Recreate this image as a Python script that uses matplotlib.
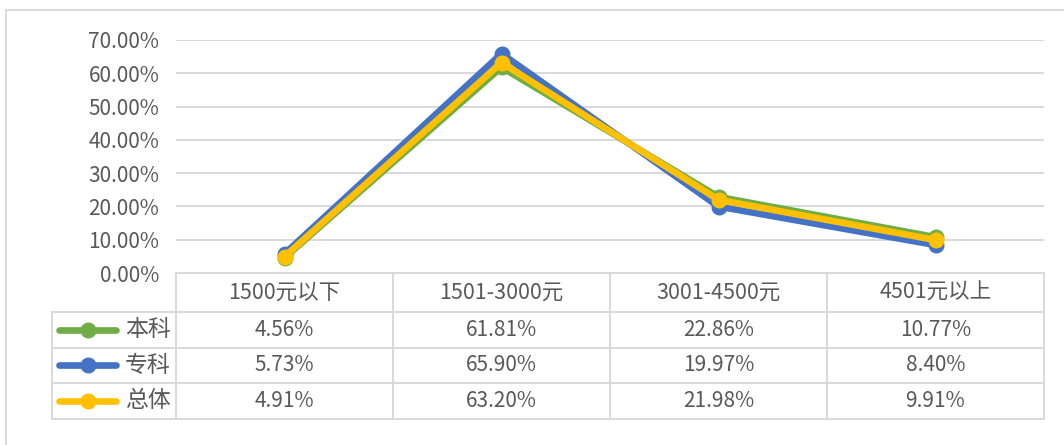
import matplotlib.pyplot as plt
from matplotlib.lines import Line2D
from matplotlib.patches import Rectangle
from matplotlib.ticker import PercentFormatter

plt.rcParams['font.family'] = ['Noto Sans CJK SC', 'DejaVu Sans']

# dados
categorias = ["1500元以下", "1501-3000元", "3001-4500元", "4501元以上"]
series = ["本科", "专科", "总体"]
benke = [4.56, 61.81, 22.86, 10.77]
zhuanke = [5.73, 65.90, 19.97, 8.40]
zongti = [4.91, 63.20, 21.98, 9.91]
valores = [benke, zhuanke, zongti]
cores = ["#70AD47", "#4472C4", "#FFC000"]

W, H = 1064, 445
cinza = "#D9D9D9"
texto = "#595959"

fig = plt.figure(figsize=(W / 100, H / 100), dpi=100)

# moldura externa
fig.add_artist(Rectangle((6 / W, -0.1), 1.2, 1 - 10 / H + 0.1, transform=fig.transFigure,
                         fill=False, edgecolor=cinza, linewidth=1.3))

esq, dir_, topo, base = 176, 1044, 40, 273
ax = fig.add_axes([esq / W, 1 - base / H, (dir_ - esq) / W, (base - topo) / H])
ax.set_xlim(-0.5, len(categorias) - 0.5)
ax.set_ylim(0, 70)
ax.set_yticks(range(0, 71, 10))
ax.yaxis.set_major_formatter(PercentFormatter(decimals=2))
ax.set_xticks([])
for s in ax.spines.values():
    s.set_visible(False)
ax.tick_params(axis='y', length=0, pad=12, labelsize=15, labelcolor=texto)
for v in range(10, 71, 10):
    ax.axhline(v, color=cinza, linewidth=1.4, zorder=0)

x = list(range(len(categorias)))
for nome, vals, cor in zip(series, valores, cores):
    ax.plot(x, vals, color=cor, linewidth=4.8, marker='o', markersize=10.5,
            solid_joinstyle='round', solid_capstyle='round', clip_on=False, label=nome)

# tabela de dados
tab = fig.add_axes([0, 0, 1, 1])
tab.set_xlim(0, W)
tab.set_ylim(H, 0)
tab.axis('off')
tab.patch.set_alpha(0)

legx = 52
colw = (dir_ - esq) / len(categorias)
linhas_y = [273, 311.5, 347.5, 383, 418.5]

def linha(x0, x1, y0, y1):
    tab.add_line(Line2D([x0, x1], [y0, y1], color=cinza, linewidth=1.4))

# horizontais
linha(esq, dir_, linhas_y[0], linhas_y[0])
for y in linhas_y[1:]:
    linha(legx, dir_, y, y)
# verticais
linha(legx, legx, linhas_y[1], linhas_y[-1])
for i in range(len(categorias) + 1):
    xx = esq + i * colw
    linha(xx, xx, linhas_y[0], linhas_y[-1])

for i, cat in enumerate(categorias):
    cx = esq + (i + 0.5) * colw
    tab.text(cx, (linhas_y[0] + linhas_y[1]) / 2, cat, ha='center', va='center',
             fontsize=15.5, color=texto)

for r, (nome, vals, cor) in enumerate(zip(series, valores, cores)):
    cy = (linhas_y[r + 1] + linhas_y[r + 2]) / 2
    tab.add_line(Line2D([59, 116], [cy, cy], color=cor, linewidth=4.8, solid_capstyle='round'))
    tab.plot([87.5], [cy], marker='o', color=cor, markersize=10.5)
    tab.text(148, cy, nome, ha='center', va='center', fontsize=16.5, color=texto)
    for i, v in enumerate(vals):
        cx = esq + (i + 0.5) * colw
        tab.text(cx, cy, f"{v:.2f}%", ha='center', va='center', fontsize=15, color=texto)

fig.savefig("out.png", dpi=100)
